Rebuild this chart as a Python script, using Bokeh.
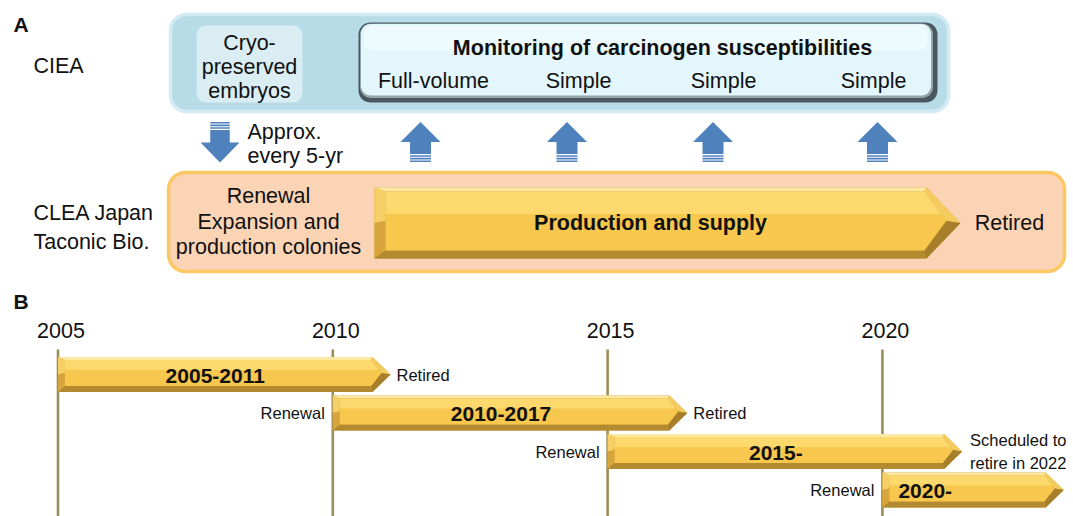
import numpy as np
from bokeh.plotting import figure
from bokeh.models import Range1d
from bokeh.core.properties import value
from bokeh.embed import file_html
from bokeh.resources import INLINE

# ---------------- data ----------------
ciea_label = "CIEA"
clea_labels = ["CLEA Japan", "Taconic Bio."]
cryo_text = ["Cryo-", "preserved", "embryos"]
monitoring_title = "Monitoring of carcinogen susceptibilities"
monitoring_types = ["Full-volume", "Simple", "Simple", "Simple"]
interval_text = ["Approx.", "every 5-yr"]
renewal_text = ["Renewal", "Expansion and", "production colonies"]
production_text = "Production and supply"
retired_text = "Retired"

year_ticks = [2005, 2010, 2015, 2020]
colony_labels = ["2005-2011", "2010-2017", "2015-", "2020-"]
colony_start = [2005, 2010, 2015, 2020]
colony_end = [2011.05, 2016.45, 2021.45, 2023.3]
start_notes = ["", "Renewal", "Renewal", "Renewal"]
end_notes = [["Retired"], ["Retired"], ["Scheduled to", "retire in 2022"], []]

# ---------------- layout ----------------
W, H = 1073, 516
FONT = value("Liberation Sans")
PX_PER_YR = 54.96
X_2005 = 57.5
TXT = "#111111"
BLUE = "#4f81bd"
A_SIZE = 21.5

p = figure(width=W, height=H, x_range=Range1d(0, W), y_range=Range1d(H, 0),
           x_axis_type=None, y_axis_type=None, toolbar_location=None,
           output_backend="svg", min_border=0)
p.outline_line_color = None
p.background_fill_color = "white"
p.border_fill_color = "white"
p.extra_x_ranges = {"yr": Range1d(2005 - X_2005 / PX_PER_YR,
                                  2005 + (W - X_2005) / PX_PER_YR)}


def rrect(x0, x1, y0, y1, r, n=10):
    xs, ys = [], []
    for cx, cy, a0, a1 in [(x1 - r, y0 + r, -90, 0), (x1 - r, y1 - r, 0, 90),
                           (x0 + r, y1 - r, 90, 180), (x0 + r, y0 + r, 180, 270)]:
        for a in np.linspace(np.radians(a0), np.radians(a1), n):
            xs.append(cx + r * np.cos(a))
            ys.append(cy + r * np.sin(a))
    return xs, ys


def box(x0, x1, y0, y1, r, fill, line=None, lw=0):
    xs, ys = rrect(x0, x1, y0, y1, r)
    p.patch(xs, ys, fill_color=fill, line_color=line, line_width=lw)


def txt(xs, ys, texts, size, align="center", bold=False, rng="default", xoff=0):
    p.text(x=xs, y=ys, text=texts, text_font=FONT, text_font_size=value(f"{size}px"),
           text_align=value(align), text_baseline=value("middle"),
           text_font_style=value("bold" if bold else "normal"), text_color=TXT,
           x_offset=xoff, x_range_name=rng)


def gold_arrow(x0, xtip, yc, h, head_px, k, rng, bl=7, bt=3, bb=6):
    head = head_px / k
    bx = bl / k
    xb = xtip - head
    top, bot = yc - h / 2, yc + h / 2
    it, ib = top + bt, bot - bb
    icy = (it + ib) / 2
    ix0 = x0 + bx
    ixb = xb - 0.2 * bx
    ixtip = xtip - 1.3 * bx
    f = 0.38
    yh = it + f * (ib - it)
    polys = [
        ([x0, xb, xtip, xb, x0], [top, top, yc, bot, bot], "#c99a36"),
        ([x0, xb, ixb, ix0], [top, top, it, it], "#fde9a4"),
        ([x0, ix0, ix0, x0], [top, it, icy, yc], "#f6d066"),
        ([x0, ix0, ix0, x0], [yc, icy, ib, bot], "#d7a53c"),
        ([x0, ix0, ixb, xb], [bot, ib, ib, bot], "#b48a30"),
        ([xb, xtip, ixtip, ixb], [top, yc, icy, it], "#f3cb5e"),
        ([xtip, xb, ixb, ixtip], [yc, bot, ib, icy], "#a77e2a"),
        ([ix0, ixb, ixtip, ixb, ix0], [it, it, icy, ib, ib], "#f7c84d"),
        ([ix0, ixb, ixb + (ixtip - ixb) * 2 * f, ix0], [it, it, yh, yh], "#fcd86d"),
    ]
    p.patches(xs=[a for a, _, _ in polys], ys=[b for _, b, _ in polys],
              fill_color=[c for _, _, c in polys], line_color=None, x_range_name=rng)


def blue_arrow(cx, y_tip, y_base, y_end, hw, sw):
    d = 1 if y_end > y_tip else -1
    solid_end = y_end - d * 8
    xs = [cx, cx + hw, cx + sw, cx + sw, cx - sw, cx - sw, cx - hw]
    ys = [y_tip, y_base, y_base, solid_end, solid_end, y_base, y_base]
    p.patch(xs, ys, fill_color=BLUE, line_color=None)
    for j in range(3):
        a = solid_end + d * (1.2 + j * 2.6)
        b = a + d * 1.6
        p.quad(left=cx - sw, right=cx + sw, top=min(a, b), bottom=max(a, b),
               fill_color=BLUE, line_color=None)


# ---------------- panel A ----------------
box(170, 948, 14, 111, 16, "#b7dce7", "#d3ebf3", 3.5)
box(196, 302, 25, 102, 10, "#d9edf3")
box(358, 937, 22, 102, 12, "#4a575e")
box(359.5, 932.5, 23, 97.5, 11, "#95a7ad")
box(360.5, 930.5, 23.5, 95, 10, "#e2f6fb")
box(364, 927, 25, 50, 8, "#eefbfe")
box(168, 1064, 172, 271, 17, "#fbd4b5", "#fdc864", 3.5)
gold_arrow(374, 960, 222.5, 71, 34, 1.0, "default", bl=11, bt=4, bb=8)

blue_arrow(219.5, 162, 142, 121.5, 19.5, 9.75)
for cx in [420, 566.5, 712.5, 877]:
    blue_arrow(cx, 121.5, 141.5, 161.5, 20, 10.5)

txt([13], [24], ["A"], 21, "left", bold=True)
txt([33], [65], [ciea_label], A_SIZE, "left")
txt([33, 33], [212, 241], clea_labels, A_SIZE, "left")
txt([249] * 3, [42, 66, 90], cryo_text, A_SIZE)
txt([662], [47], [monitoring_title], A_SIZE, bold=True)
txt([433, 578, 723, 873], [80] * 4, monitoring_types, A_SIZE)
txt([247, 247], [131, 155], interval_text, A_SIZE, "left")
txt([268] * 3, [195, 221, 246], renewal_text, A_SIZE)
txt([650], [222], [production_text], A_SIZE, bold=True)
txt([1009], [222], [retired_text], A_SIZE)

# ---------------- panel B ----------------
txt([13], [301], ["B"], 21, "left", bold=True)
p.segment(x0=year_ticks, x1=year_ticks, y0=[349] * 4, y1=[520] * 4,
          line_color="#9c8e58", line_width=2.6, x_range_name="yr")
txt(year_ticks, [330] * 4, [str(y) for y in year_ticks], 21.5, rng="yr", xoff=3)

BAR_H, HEAD = 35, 18
for i, (s, e, lab) in enumerate(zip(colony_start, colony_end, colony_labels)):
    yc = 374 + 38.5 * i
    gold_arrow(s, e, yc, BAR_H, HEAD, PX_PER_YR, "yr")
    body_end = e - HEAD / PX_PER_YR
    if i < len(colony_labels) - 1:
        txt([(s + body_end) / 2], [yc + 1], [lab], 21, bold=True, rng="yr")
    else:
        txt([s], [yc + 1], [lab], 21, "left", bold=True, rng="yr", xoff=16)
    if start_notes[i]:
        txt([s], [yc], [start_notes[i]], 16.5, "right", rng="yr", xoff=-8)
    notes = end_notes[i]
    if len(notes) == 1:
        txt([e], [yc], notes, 16.5, "left", rng="yr", xoff=6)
    elif len(notes) == 2:
        txt([e, e], [yc - 12, yc + 11], notes, 16.5, "left", rng="yr", xoff=8)

open("out.html", "w").write(file_html(p, INLINE))
